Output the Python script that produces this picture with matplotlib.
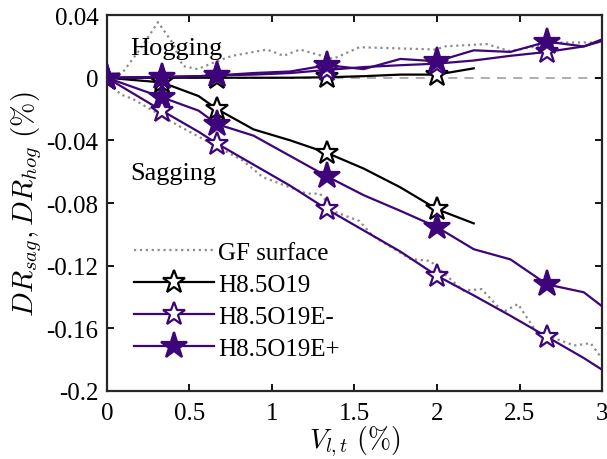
import numpy as np
import matplotlib
matplotlib.use("Agg")
import matplotlib.pyplot as plt

plt.rcParams['font.family'] = ['Liberation Serif', 'DejaVu Serif']
plt.rcParams['mathtext.fontset'] = 'cm'

# common x grid for test series (Vl,t %)
x = [0, 1/3, 5/9, 2/3, 8/9, 10/9, 4/3, 14/9, 16/9, 2, 20/9, 22/9, 8/3, 26/9, 3]
mark_idx = [0, 1, 3, 6, 9, 12]

nan = np.nan
h_sag = [0, -0.003, -0.0117, -0.020, -0.033, -0.040, -0.048, -0.058, -0.070, -0.084, -0.093, nan, nan, nan, nan]
h_hog = [0, 0, 0, 0, 0, 0, 0.0003, 0.001, 0.002, 0.002, 0.006, nan, nan, nan, nan]

em_sag = [0, -0.021, -0.0345, -0.042, -0.0555, -0.069, -0.084, -0.0975, -0.111, -0.1265, -0.139, -0.152, -0.1655, -0.179, -0.1865]
em_hog = [0, 0.0005, 0.001, 0.0015, 0.002, 0.003, 0.005, 0.0068, 0.008, 0.009, 0.011, 0.014, 0.0165, 0.020, 0.0235]

ep_sag = [0, -0.0125, -0.021, -0.0296, -0.037, -0.050, -0.063, -0.075, -0.085, -0.0954, -0.1095, -0.116, -0.132, -0.137, -0.146]
ep_hog = [0, 0.0005, 0.001, 0.0015, 0.003, 0.004, 0.008, 0.0055, 0.012, 0.0105, 0.0175, 0.0165, 0.023, 0.020, 0.0245]

gf_hog_x = [0, 0.1, 0.2, 0.31, 0.4, 0.46, 0.55, 0.67, 0.76, 0.97, 1.07, 1.17, 1.37, 1.53, 2.0, 2.04, 2.3, 2.44, 2.6, 2.7, 3.0]
gf_hog_y = [0, 0.004, 0.018, 0.0355, 0.022, 0.0075, 0.0055, 0.0107, 0.014, 0.018, 0.014, 0.018, 0.012, 0.0195, 0.018, 0.020, 0.0215, 0.017, 0.020, 0.0225, 0.0225]
gf_sag_x = [0, 0.08, 0.16, 0.44, 0.825, 0.945, 1.21, 1.29, 1.39, 1.53, 1.61, 1.84, 1.96, 2.0, 2.16, 2.27, 2.4, 2.49, 2.6, 2.83, 2.93, 3.0]
gf_sag_y = [0, -0.0105, -0.0137, -0.031, -0.053, -0.0635, -0.074, -0.074, -0.086, -0.0915, -0.101, -0.1158, -0.117, -0.121, -0.136, -0.135, -0.1497, -0.1445, -0.162, -0.171, -0.1695, -0.1795]

labels = ['GF surface', 'H8.5O19', 'H8.5O19E-', 'H8.5O19E+']
xticks = [0, 0.5, 1, 1.5, 2, 2.5, 3]
xticklabels = ['0', '0.5', '1', '1.5', '2', '2.5', '3']
yticks = [-0.2, -0.16, -0.12, -0.08, -0.04, 0, 0.04]
yticklabels = ['-0.2', '-0.16', '-0.12', '-0.08', '-0.04', '0', '0.04']

purple = '#3d0579'
gray = '#8c8c8c'

fig = plt.figure(figsize=(6.07, 4.60), dpi=100)
ax = fig.add_axes([0.176, 0.148, 0.816, 0.817])

ax.axhline(0, color='#a8a8a8', lw=1.3, ls=(0, (5, 4)), zorder=1)

gf, = ax.plot(gf_hog_x, gf_hog_y, color=gray, ls=':', lw=1.6, zorder=2)
ax.plot(gf_sag_x, gf_sag_y, color=gray, ls=':', lw=1.6, zorder=2)

ms = 17
mew = 1.6
l1, = ax.plot(x, h_sag, color='black', lw=1.6, marker='*', ms=ms, mfc='white', mec='black', mew=mew, markevery=mark_idx, zorder=3)
ax.plot(x, h_hog, color='black', lw=1.6, marker='*', ms=ms, mfc='white', mec='black', mew=mew, markevery=mark_idx, zorder=3)
l2, = ax.plot(x, em_sag, color=purple, lw=1.6, marker='*', ms=ms, mfc='white', mec=purple, mew=mew, markevery=mark_idx, zorder=4)
ax.plot(x, em_hog, color=purple, lw=1.6, marker='*', ms=ms, mfc='white', mec=purple, mew=mew, markevery=mark_idx, zorder=4)
l3, = ax.plot(x, ep_sag, color=purple, lw=1.6, marker='*', ms=ms + 3, mfc=purple, mec=purple, mew=mew, markevery=mark_idx, zorder=5)
ax.plot(x, ep_hog, color=purple, lw=1.6, marker='*', ms=ms + 3, mfc=purple, mec=purple, mew=mew, markevery=mark_idx, zorder=5)

ax.set_xlim(0, 3)
ax.set_ylim(-0.2, 0.04)
ax.set_xticks(xticks)
ax.set_xticklabels(xticklabels)
ax.set_yticks(yticks)
ax.set_yticklabels(yticklabels)
ax.tick_params(direction='in', length=5, width=1.3, labelsize=18, top=True, right=True, pad=6)
ax.tick_params(axis='x', pad=8)
for s in ax.spines.values():
    s.set_linewidth(1.6)
    s.set_color('#262626')

ax.set_xlabel(r'$V_{l,t}\ (\%)$', fontsize=20, labelpad=0)
ax.set_ylabel(r'$DR_{sag}, DR_{hog}\ (\%)$', fontsize=21, labelpad=2)

ax.text(0.14, 0.019, 'Hogging', fontsize=19, va='center', ha='left')
ax.text(0.14, -0.061, 'Sagging', fontsize=19, va='center', ha='left')

ax.legend([gf, l1, l2, l3], labels, loc='upper left', bbox_to_anchor=(0.035, 0.425),
          frameon=False, fontsize=18, handlelength=3.2, handletextpad=0.15,
          labelspacing=0.38, borderaxespad=0)

fig.savefig('out.png', dpi=100)
